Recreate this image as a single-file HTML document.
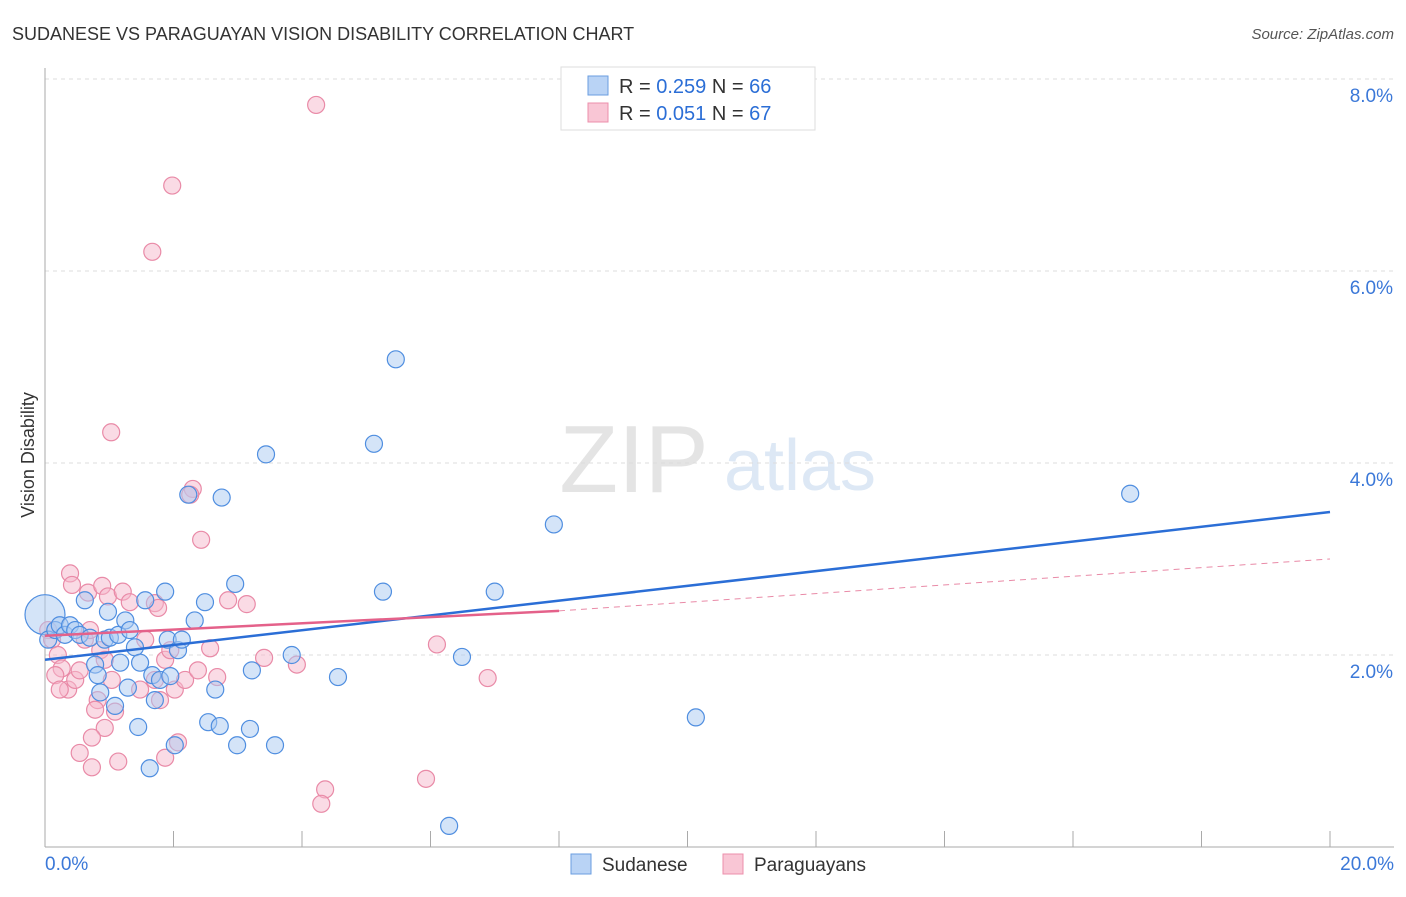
<!DOCTYPE html>
<html><head><meta charset="utf-8"><style>
body{margin:0;background:#fff;font-family:"Liberation Sans",sans-serif;}
svg text{font-family:"Liberation Sans",sans-serif;}
</style></head><body>
<svg id="c" width="1406" height="892">
<text x="12" y="40" font-size="18" fill="#333">SUDANESE VS PARAGUAYAN VISION DISABILITY CORRELATION CHART</text>
<text x="1394" y="39" font-size="15" fill="#555" font-style="italic" text-anchor="end">Source: ZipAtlas.com</text>
<text x="634" y="492" font-size="96" fill="#e4e4e4" font-family="Liberation Serif" text-anchor="middle">ZIP</text>
<text x="800" y="490" font-size="72" fill="#dde8f5" text-anchor="middle">atlas</text>
<text x="34" y="455" font-size="18" fill="#333" text-anchor="middle" transform="rotate(-90 34 455)">Vision Disability</text>
<g id="grid"></g><g id="pts"></g><g id="lines"></g>
<g>
<rect x="561" y="67" width="254" height="63" fill="#fff" stroke="#ddd"/>
<rect x="588" y="76" width="20" height="19" fill="#b9d3f5" stroke="#6a9ee0"/>
<rect x="588" y="103" width="20" height="19" fill="#f9c6d5" stroke="#ec8fab"/>
<text x="619" y="93" font-size="20" fill="#333">R = <tspan fill="#2b6ed6">0.259</tspan>    N = <tspan fill="#2b6ed6">66</tspan></text>
<text x="619" y="120" font-size="20" fill="#333">R = <tspan fill="#2b6ed6">0.051</tspan>    N = <tspan fill="#2b6ed6">67</tspan></text>
</g>
<g>
<rect x="571" y="854" width="20" height="20" fill="#b9d3f5" stroke="#6a9ee0"/>
<text x="602" y="871" font-size="19" fill="#333">Sudanese</text>
<rect x="723" y="854" width="20" height="20" fill="#f9c6d5" stroke="#ec8fab"/>
<text x="754" y="871" font-size="19" fill="#333">Paraguayans</text>
</g>
</svg>
<script>
const xTickLabels=["0.0%","20.0%"];
const yTicks=[2,4,6,8];
const yTickLabels=["2.0%","4.0%","6.0%","8.0%"];
const sudX=[0,0.05,0.16,0.23,0.31,0.39,0.47,0.54,0.62,0.70,0.78,0.82,0.86,0.93,0.98,1.01,1.09,1.14,1.17,1.25,1.29,1.32,1.40,1.45,1.48,1.56,1.63,1.67,1.71,1.79,1.87,1.91,1.95,2.02,2.07,2.13,2.23,2.33,2.49,2.54,2.65,2.72,2.75,2.96,2.99,3.19,3.22,3.44,3.58,3.84,4.56,5.26,5.46,5.12,6.29,6.49,7.00,7.92,10.13,16.89];
const sudY=[2.42,2.16,2.26,2.31,2.21,2.31,2.26,2.21,2.57,2.18,1.90,1.79,1.61,2.16,2.45,2.18,1.47,2.21,1.92,2.36,1.66,2.26,2.08,1.25,1.92,2.57,0.82,1.79,1.53,1.74,2.66,2.16,1.78,1.06,2.05,2.16,3.67,2.36,2.55,1.30,1.64,1.26,3.64,2.74,1.06,1.23,1.84,4.09,1.06,2.00,1.77,2.66,5.08,4.20,0.22,1.98,2.66,3.36,1.35,3.68];
const parX=[4.22,1.98,1.67,1.03,2.30,2.26,2.43,0.39,0.42,0.67,0.89,0.98,1.21,1.32,1.71,1.76,2.85,3.14,0.05,0.11,0.20,0.26,0.16,0.36,0.47,0.54,0.62,0.70,0.86,0.93,1.04,0.82,0.78,1.09,0.93,0.73,0.54,0.73,1.14,1.56,1.71,1.79,1.87,1.95,2.02,2.07,1.87,2.18,2.38,2.57,2.68,3.41,3.92,4.36,4.30,5.93,6.10,6.89,0.23,1.48];
const parY=[7.73,6.89,6.20,4.32,3.73,3.67,3.20,2.85,2.73,2.65,2.72,2.61,2.66,2.55,2.54,2.49,2.57,2.53,2.26,2.16,2.00,1.86,1.79,1.64,1.74,1.84,2.16,2.26,2.05,1.95,1.74,1.53,1.43,1.41,1.24,1.14,0.98,0.83,0.89,2.16,1.74,1.53,1.95,2.05,1.64,1.09,0.93,1.74,1.84,2.07,1.77,1.97,1.90,0.60,0.45,0.71,2.11,1.76,1.64,1.64];
const sudTrend=[[0,1.95],[20,3.49]];
const parTrendSolid=[[0,2.20],[8,2.46]];
const parTrendDash=[[8,2.46],[20,3.0]];
const X=v=>45+v*64.25, Y=v=>847-v*96;
const NS="http://www.w3.org/2000/svg";
function mk(t,a,p){const e=document.createElementNS(NS,t);for(const k in a)e.setAttribute(k,a[k]);p.appendChild(e);return e;}
const svg=document.getElementById('c'),grid=document.getElementById('grid'),pts=document.getElementById('pts'),lines=document.getElementById('lines');
yTicks.forEach((t,i)=>{
 const l=mk('line',{x1:45,x2:1394,y1:Y(t),y2:Y(t),stroke:'#ddd','stroke-dasharray':'4,4'},grid);
 
 
 const tx=mk('text',{x:1393,y:Y(t)+23,'font-size':19,fill:'#3b78d8','text-anchor':'end'},grid);
 tx.textContent=yTickLabels[i];
 
 
});
let ax=mk('line',{x1:45,x2:45,y1:68,y2:847,stroke:'#aaa'},grid);


ax=mk('line',{x1:45,x2:1394,y1:847,y2:847,stroke:'#aaa'},grid);


for(let v=0;v<=20;v+=2){const tk=mk('line',{x1:X(v),x2:X(v),y1:831,y2:847,stroke:'#aaa'},grid);
 
 }
[[0,'start',45],[20,'end',1394]].forEach((d,i)=>{const t=mk('text',{x:d[2],y:870,'font-size':19,fill:'#3b78d8','text-anchor':d[1]},grid);t.textContent=xTickLabels[i];
 
 });
function dots(xs,ys,fill,stroke,name){xs.forEach((x,i)=>{const c=mk('circle',{cx:X(x),cy:Y(ys[i]),r:(i===0&&name==='sudanese-point')?20:8.5,fill:fill,'fill-opacity':0.5,stroke:stroke,'stroke-width':1.2},pts);
 
 });}
dots(parX,parY,'#f6b8cb','#e98aa7','paraguayan-point');
dots(sudX,sudY,'#a9c9f2','#4f8ee0','sudanese-point');
function ln(p,col,w,dash,name){const l=mk('line',{x1:X(p[0][0]),y1:Y(p[0][1]),x2:X(p[1][0]),y2:Y(p[1][1]),stroke:col,'stroke-width':w},lines);if(dash)l.setAttribute('stroke-dasharray',dash);
 
 }
ln(parTrendDash,'#e98aa7',1,'6,5','paraguayan-trend-extension');
ln(sudTrend,'#2b6ed6',2.5,null,'sudanese-trend-line');
ln(parTrendSolid,'#e4618a',2.5,null,'paraguayan-trend-line');
</script>
</body></html>
